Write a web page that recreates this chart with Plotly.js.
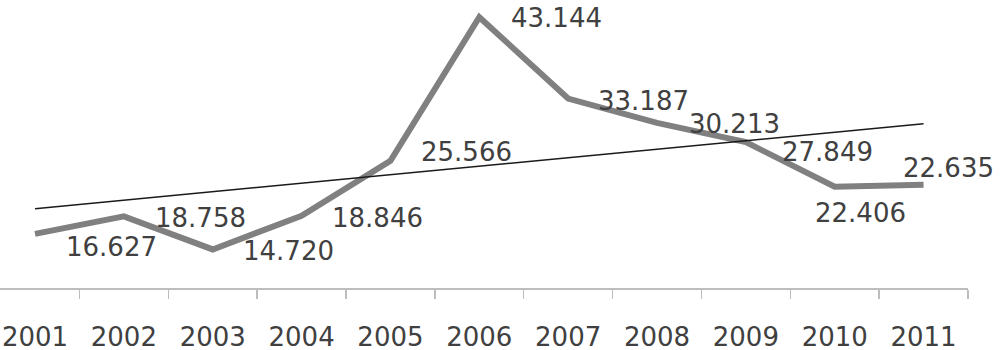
<!DOCTYPE html>
<html>
<head>
<meta charset="utf-8">
<script src="https://cdn.plot.ly/plotly-3.0.1.min.js"></script>
<style>
  html, body { margin: 0; padding: 0; background: #fff; }
  #chart { width: 1000px; height: 350px; }
</style>
</head>
<body>
<div id="chart"></div>
<script>
// Data
var years = ["2001", "2002", "2003", "2004", "2005", "2006", "2007", "2008", "2009", "2010", "2011"];
var values = [16.627, 18.758, 14.720, 18.846, 25.566, 43.144, 33.187, 30.213, 27.849, 22.406, 22.635];
var valueLabels = ["16.627", "18.758", "14.720", "18.846", "25.566", "43.144", "33.187", "30.213", "27.849", "22.406", "22.635"];

// Label placement offsets (pixels: right, down)
var labelDx = [76, 77, 76, 76, 76, 77, 75, 77, 82, 26, 25];
var labelDy = [13, 2, 2, 2, -9, 1, 2, 1, 10, 26, -17];

// Linear trend (least squares) computed from the series
var n = values.length;
var xs = values.map(function (_, i) { return i + 1; });
var mx = xs.reduce(function (a, b) { return a + b; }, 0) / n;
var my = values.reduce(function (a, b) { return a + b; }, 0) / n;
var sxy = 0, sxx = 0;
for (var i = 0; i < n; i++) { sxy += (xs[i] - mx) * (values[i] - my); sxx += (xs[i] - mx) * (xs[i] - mx); }
var slope = sxy / sxx;
var intercept = my - slope * mx;
var trend = xs.map(function (x) { return intercept + slope * x; });

var font = "DejaVu Sans";
var textColor = "#404040";

var traces = [
  {
    x: years, y: values, type: "scatter", mode: "lines",
    line: { color: "#808080", width: 6 },
    hoverinfo: "skip", showlegend: false
  },
  {
    x: [years[0], years[n - 1]], y: [trend[0], trend[n - 1]], type: "scatter", mode: "lines",
    line: { color: "#1a1a1a", width: 1.5 },
    hoverinfo: "skip", showlegend: false
  }
];

// category axis: annotation x uses the category's serial index
var annotations = years.map(function (yr, i) {
  return {
    x: i, y: values[i], xref: "x", yref: "y",
    text: valueLabels[i], showarrow: false,
    xanchor: "center", yanchor: "middle",
    xshift: labelDx[i], yshift: -labelDy[i],
    font: { family: font, size: 26, color: textColor }
  };
});

var layout = {
  width: 1000, height: 350,
  margin: { l: 0, r: 32, t: 2, b: 62 },
  paper_bgcolor: "#ffffff", plot_bgcolor: "#ffffff",
  showlegend: false,
  xaxis: {
    type: "category",
    range: [-0.394, 10.5001],
    tickson: "boundaries",
    ticks: "outside", ticklen: 9, tickwidth: 1.5, tickcolor: "#bdbdbd",
    showline: true, linecolor: "#bdbdbd", linewidth: 2,
    showgrid: false, zeroline: false,
    ticklabelstandoff: 25,
    tickfont: { family: font, size: 26, color: textColor }
  },
  yaxis: {
    range: [10, 45],
    showgrid: false, zeroline: false, showline: false,
    showticklabels: false, ticks: ""
  },
  annotations: annotations
};

Plotly.newPlot("chart", traces, layout, { staticPlot: true, displayModeBar: false });
</script>
</body>
</html>
